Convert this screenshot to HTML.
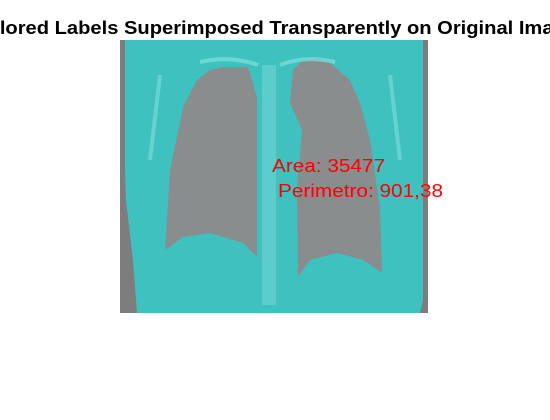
<!DOCTYPE html>
<html><head><meta charset="utf-8"><style>
body{margin:0;background:#fff;width:550px;height:415px;overflow:hidden;font-family:"Liberation Sans",sans-serif}
</style></head><body>
<svg width="550" height="415" xmlns="http://www.w3.org/2000/svg">
<rect width="550" height="415" fill="#fff"/>
<g>
<rect x="120" y="40" width="308" height="273" fill="#7d7d7d"/>
<path d="M125,40 L423,40 L423,300 L420,313 L137,313 L133,260 L126,200 L125,170 Z" fill="#3fc1c0"/>
<polygon points="223,67 248,67 257,97 257,257 243,243 210,233 183,237 165,250 170,170 183,107 197,80 210,70" fill="#8a8d8d"/>
<polygon points="317,58 330,63 350,80 360,103 370,140 380,207 382,273 363,260 337,253 310,260 298,277 297,190 302,130 290,103 293,70 303,60" fill="#8a8d8d"/>
<rect x="262" y="65" width="14" height="240" fill="#6fd6d4" opacity="0.6"/>
<path d="M200,62 Q230,55 258,65 M280,65 Q305,55 335,62" stroke="#7fe0dd" stroke-width="4" fill="none" opacity="0.7"/>
<path d="M160,75 L150,160 M390,75 L400,160" stroke="#7fe0dd" stroke-width="4" fill="none" opacity="0.6"/>
</g>
<text x="-27" y="34" textLength="604" lengthAdjust="spacingAndGlyphs" font-size="18" font-weight="bold" fill="#000">Colored Labels Superimposed Transparently on Original Image</text>
<text x="272" y="172" textLength="113" lengthAdjust="spacingAndGlyphs" font-size="18" fill="#ff0000">Area: 35477</text>
<text x="278" y="197" textLength="165" lengthAdjust="spacingAndGlyphs" font-size="18" fill="#ff0000">Perimetro: 901,38</text>
</svg>
</body></html>
